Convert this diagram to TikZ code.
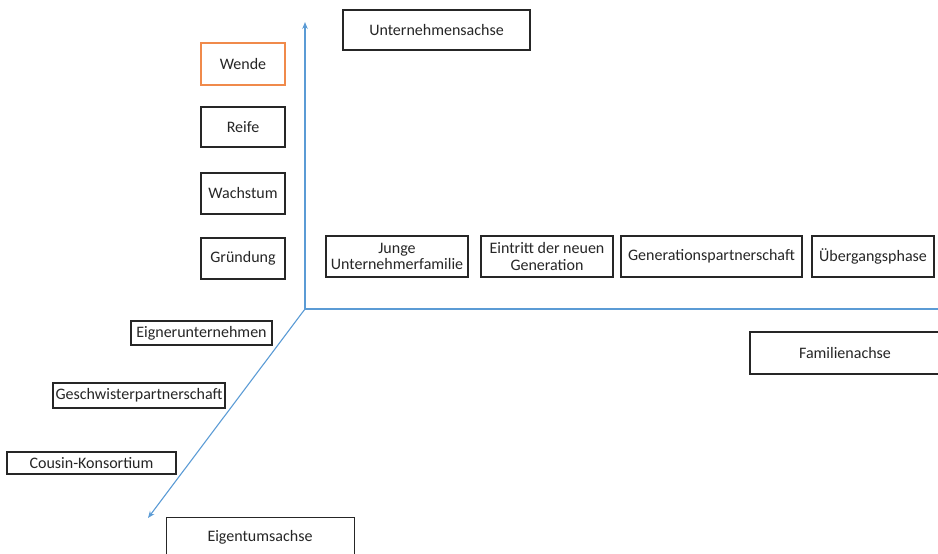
\documentclass[tikz,border=0pt]{standalone}
\usepackage{fontspec}
\setmainfont{Carlito}
\usetikzlibrary{arrows.meta}
\definecolor{axisblue}{HTML}{5B9BD5}
\definecolor{boxorange}{HTML}{F08A4B}
\definecolor{boxline}{HTML}{262626}
\tikzset{
  lbl/.style={draw=boxline, line width=1.1pt, fill=white, inner sep=0pt,
    font=\fontsize{16}{16.5}\selectfont, text=black!85, align=center},
  axis/.style={draw=axisblue, line width=1.1pt},
  axisarrow/.style={axis, -{Stealth[length=7pt,width=5.5pt]}}
}
\begin{document}
\begin{tikzpicture}[x=1pt, y=-1pt]
  \useasboundingbox (0,0) rectangle (938,554);

  % axes
  \coordinate (O) at (305,309);
  \coordinate (up) at (305,22);
  \coordinate (right) at (945,309);
  \coordinate (down) at (148,518);
  \draw[axisarrow] (O) -- (up);
  \draw[axis] (O) -- (right);
  \draw[axisarrow] (O) -- (down);

  % axis titles
  \node[lbl, minimum width=187pt, minimum height=40pt] (ua) at (436.5,30) {Unternehmensachse};
  \node[lbl, minimum width=190pt, minimum height=42pt] (fa) at (845,353) {Familienachse};
  \node[lbl, minimum width=188pt, minimum height=42pt, anchor=north west] (ea) at (166,517) {};
  \node at (260,537.5) [font=\fontsize{16}{16.5}\selectfont, text=black!85] (eat) {Eigentumsachse};

  % company phases
  \node[lbl, draw=boxorange, minimum width=84pt, minimum height=42pt] (wende) at (243,64) {Wende};
  \node[lbl, minimum width=84pt, minimum height=40pt] (reife) at (243,127) {Reife};
  \node[lbl, minimum width=84pt, minimum height=41pt] (wachstum) at (243,193.5) {Wachstum};
  \node[lbl, minimum width=84pt, minimum height=41pt] (gruendung) at (243,258.5) {Gründung};

  % family phases
  \node[lbl, minimum width=142pt, minimum height=41pt] (junge) at (397,256.5) {Junge\\Unternehmerfamilie};
  \node[lbl, minimum width=132pt, minimum height=41pt] (eintritt) at (547,256.5) {Eintritt der neuen\\Generation};
  \node[lbl, minimum width=181pt, minimum height=41pt] (genpart) at (711.5,256.5) {Generationspartnerschaft};
  \node[lbl, minimum width=122pt, minimum height=41pt] (uebergang) at (873,256.5) {Übergangsphase};

  % ownership phases
  \node[lbl, minimum width=141pt, minimum height=24pt] (eigner) at (201.5,333) {Eignerunternehmen};
  \node[lbl, minimum width=172pt, minimum height=25pt] (geschw) at (139,395.5) {Geschwisterpartnerschaft};
  \node[lbl, minimum width=169pt, minimum height=22pt] (cousin) at (91.5,463) {Cousin-Konsortium};
\end{tikzpicture}
\end{document}
